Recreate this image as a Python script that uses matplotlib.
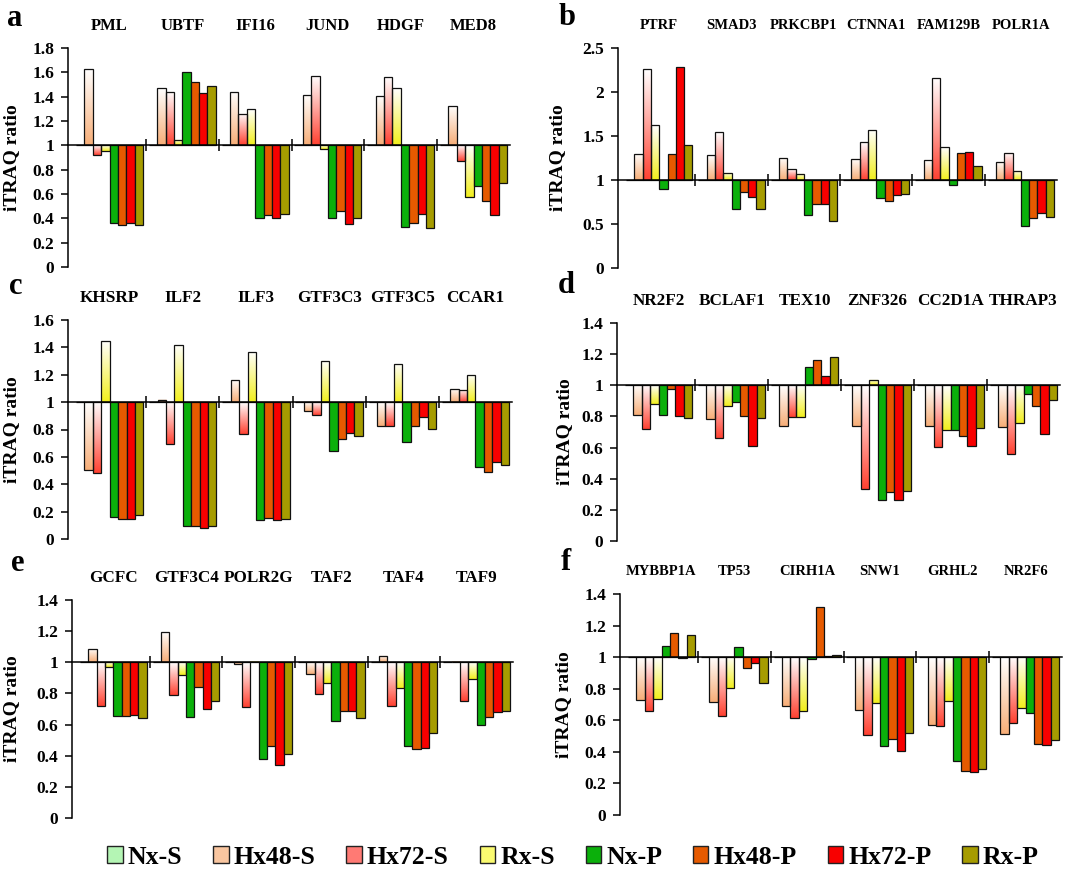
import numpy as np
import matplotlib
matplotlib.use('Agg')
import matplotlib.pyplot as plt
from matplotlib.patches import Patch
from matplotlib.colors import to_rgb

plt.rcParams['font.family'] = ['Liberation Serif', 'DejaVu Serif']
plt.rcParams['font.weight'] = 'bold'

series = ['Nx-S', 'Hx48-S', 'Hx72-S', 'Rx-S', 'Nx-P', 'Hx48-P', 'Hx72-P', 'Rx-P']
colors = ['#b4f5b4', '#f7ae78', '#ff4232', '#f2ef1e', '#0bb00b', '#e65a00', '#f80000', '#a69c00']
legend_colors = ['#b4f5b4', '#f9c6a0', '#ff7a74', '#fafa70', '#0bb00b', '#e65a00', '#f80000', '#a69c00']
gradient = [True, True, True, True, False, False, False, False]

# each row = one gene, values in series order
genes_a = ['PML', 'UBTF', 'IFI16', 'JUND', 'HDGF', 'MED8']
vals_a = [
    [1, 1.625, 0.92, 0.955, 0.365, 0.343, 0.365, 0.343],
    [1, 1.468, 1.438, 1.043, 1.605, 1.52, 1.427, 1.487],
    [1, 1.438, 1.257, 1.295, 0.406, 0.431, 0.406, 0.439],
    [1, 1.416, 1.572, 0.969, 0.406, 0.458, 0.357, 0.406],
    [1, 1.405, 1.561, 1.468, 0.332, 0.365, 0.439, 0.321],
    [1, 1.323, 0.875, 0.579, 0.664, 0.543, 0.425, 0.692],
]

genes_b = ['PTRF', 'SMAD3', 'PRKCBP1', 'CTNNA1', 'FAM129B', 'POLR1A']
vals_b = [
    [1, 1.30, 2.26, 1.62, 0.90, 1.29, 2.28, 1.40],
    [1, 1.28, 1.54, 1.083, 0.67, 0.867, 0.807, 0.67],
    [1, 1.254, 1.125, 1.072, 0.606, 0.723, 0.723, 0.538],
    [1, 1.239, 1.428, 1.572, 0.795, 0.758, 0.826, 0.841],
    [1, 1.223, 2.16, 1.371, 0.94, 1.31, 1.32, 1.155],
    [1, 1.208, 1.31, 1.106, 0.48, 0.564, 0.625, 0.58],
]

genes_c = ['KHSRP', 'ILF2', 'ILF3', 'GTF3C3', 'GTF3C5', 'CCAR1']
vals_c = [
    [1, 0.506, 0.481, 1.447, 0.16, 0.148, 0.148, 0.175],
    [1, 1.016, 0.693, 1.42, 0.092, 0.092, 0.08, 0.092],
    [1, 1.162, 0.768, 1.367, 0.141, 0.151, 0.141, 0.148],
    [1, 0.936, 0.907, 1.30, 0.64, 0.73, 0.773, 0.751],
    [1, 0.827, 0.827, 1.281, 0.712, 0.827, 0.89, 0.805],
    [1, 1.099, 1.089, 1.199, 0.525, 0.489, 0.562, 0.542],
]

genes_d = ['NR2F2', 'BCLAF1', 'TEX10', 'ZNF326', 'CC2D1A', 'THRAP3']
vals_d = [
    [1, 0.807, 0.717, 0.882, 0.807, 0.978, 0.80, 0.79],
    [1, 0.781, 0.659, 0.865, 0.89, 0.80, 0.612, 0.79],
    [1, 0.741, 0.796, 0.796, 1.12, 1.16, 1.062, 1.184],
    [1, 0.741, 0.334, 1.034, 0.261, 0.315, 0.261, 0.319],
    [1, 0.741, 0.604, 0.715, 0.715, 0.677, 0.612, 0.724],
    [1, 0.732, 0.561, 0.758, 0.946, 0.865, 0.685, 0.903],
]

genes_e = ['GCFC', 'GTF3C4', 'POLR2G', 'TAF2', 'TAF4', 'TAF9']
vals_e = [
    [1, 1.086, 0.72, 0.972, 0.656, 0.656, 0.663, 0.641],
    [1, 1.193, 0.793, 0.917, 0.648, 0.844, 0.703, 0.752],
    [1, 0.99, 0.714, 1.005, 0.38, 0.46, 0.338, 0.41],
    [1, 0.923, 0.795, 0.866, 0.626, 0.684, 0.684, 0.639],
    [1, 1.041, 0.72, 0.836, 0.46, 0.445, 0.449, 0.549],
    [1, 1.002, 0.752, 0.891, 0.598, 0.648, 0.682, 0.688],
]

genes_f = ['MYBBP1A', 'TP53', 'CIRH1A', 'SNW1', 'GRHL2', 'NR2F6']
vals_f = [
    [1, 0.728, 0.659, 0.737, 1.073, 1.155, 0.997, 1.138],
    [1, 0.714, 0.627, 0.802, 1.066, 0.931, 0.965, 0.834],
    [1, 0.69, 0.617, 0.659, 0.986, 1.32, 1.007, 1.016],
    [1, 0.665, 0.507, 0.707, 0.439, 0.479, 0.408, 0.517],
    [1, 0.572, 0.564, 0.722, 0.344, 0.281, 0.274, 0.289],
    [1, 0.515, 0.581, 0.676, 0.648, 0.448, 0.443, 0.475],
]

W, H = 1082, 874
fig = plt.figure(figsize=(W / 100, H / 100), dpi=100)


def px_axes(left, right, top, bottom):
    return fig.add_axes([left / W, 1 - bottom / H, (right - left) / W, (bottom - top) / H])


def grad_img(c):
    c = np.array(to_rgb(c))
    t = np.linspace(0, 1, 64)[:, None]
    img = (1 - t) * c + t * np.ones(3)
    return img[:, None, :]


def draw_panel(ax, letter, genes, vals, ymax, step, label_px, letter_xy, gene_size):
    vals = np.array(vals)
    x = np.arange(len(genes))
    w = 0.115
    for j in range(len(series)):
        pos = x + (j - 3.5) * w
        h = vals[:, j] - 1
        if gradient[j]:
            bars = ax.bar(pos, h, w, bottom=1, facecolor='none', edgecolor='#111111',
                          linewidth=0.9, zorder=3)
            for b in bars:
                y0, hh = b.get_y(), b.get_height()
                lo, hi = min(y0, y0 + hh), max(y0, y0 + hh)
                if hi - lo < 1e-6:
                    continue
                ax.imshow(grad_img(colors[j]), extent=[b.get_x(), b.get_x() + w, lo, hi],
                          origin='lower', aspect='auto', zorder=2, interpolation='bilinear')
        else:
            ax.bar(pos, h, w, bottom=1, color=colors[j], edgecolor='#111111',
                   linewidth=0.9, zorder=3)

    ax.spines['top'].set_visible(False)
    ax.spines['right'].set_visible(False)
    ax.spines['bottom'].set_position(('data', 1))
    ax.spines['bottom'].set_zorder(4)
    for s in ('left', 'bottom'):
        ax.spines[s].set_linewidth(1.1)
    ax.set_xticks(x[:-1] + 0.5)
    ax.tick_params(axis='x', direction='inout', length=9, width=1.1, labelbottom=False)
    ax.tick_params(axis='y', direction='out', length=5, width=1.1, labelsize=12.5, pad=5)
    ax.set_xlim(-0.57, 5.5)
    ticks = np.arange(0, ymax + 1e-9, step)
    ax.set_yticks(ticks)
    ax.set_yticklabels([f'{t:g}' for t in ticks], fontweight='bold')
    ax.set_ylim(0, ymax)

    for i, g in enumerate(genes):
        ax.annotate(g, xy=(i, 1), xycoords=('data', 'axes fraction'), xytext=(0, 16),
                    textcoords='offset points', ha='center', va='center',
                    fontsize=gene_size, fontweight='bold')

    ax.set_ylabel('iTRAQ ratio', fontsize=14, fontweight='bold')
    bb = ax.get_position()
    ax.yaxis.set_label_coords((label_px / W - bb.x0) / bb.width, 0.5)
    fig.text(letter_xy[0] / W, 1 - letter_xy[1] / H, letter, fontsize=22,
             fontweight='bold', ha='left', va='baseline')


ax_a = px_axes(68, 510, 48, 267)
ax_b = px_axes(618, 1057, 48, 268)
ax_c = px_axes(68, 512, 320, 539)
ax_d = px_axes(617, 1060, 323, 541)
ax_e = px_axes(72, 513, 600, 818)
ax_f = px_axes(620, 1062, 594, 815)

draw_panel(ax_a, 'a', genes_a, vals_a, 1.8, 0.2, 20, (7, 26), 12)
draw_panel(ax_b, 'b', genes_b, vals_b, 2.5, 0.5, 566, (559, 25), 10.5)
draw_panel(ax_c, 'c', genes_c, vals_c, 1.6, 0.2, 20, (9, 294), 12.3)
draw_panel(ax_d, 'd', genes_d, vals_d, 1.4, 0.2, 573, (558, 293), 12.3)
draw_panel(ax_e, 'e', genes_e, vals_e, 1.4, 0.2, 20, (11, 571), 12.3)
draw_panel(ax_f, 'f', genes_f, vals_f, 1.4, 0.2, 572, (561, 570), 10.5)

handles = [Patch(facecolor=c, edgecolor='#222222', linewidth=1.0) for c in legend_colors]
fig.legend(handles, series, loc='center', bbox_to_anchor=(573 / W, 1 - 857 / H), ncol=8,
           frameon=False, prop={'size': 18.5, 'weight': 'bold'}, handlelength=0.6,
           handleheight=0.6, handletextpad=0.2, columnspacing=1.2)

fig.savefig('out.png', dpi=100)
